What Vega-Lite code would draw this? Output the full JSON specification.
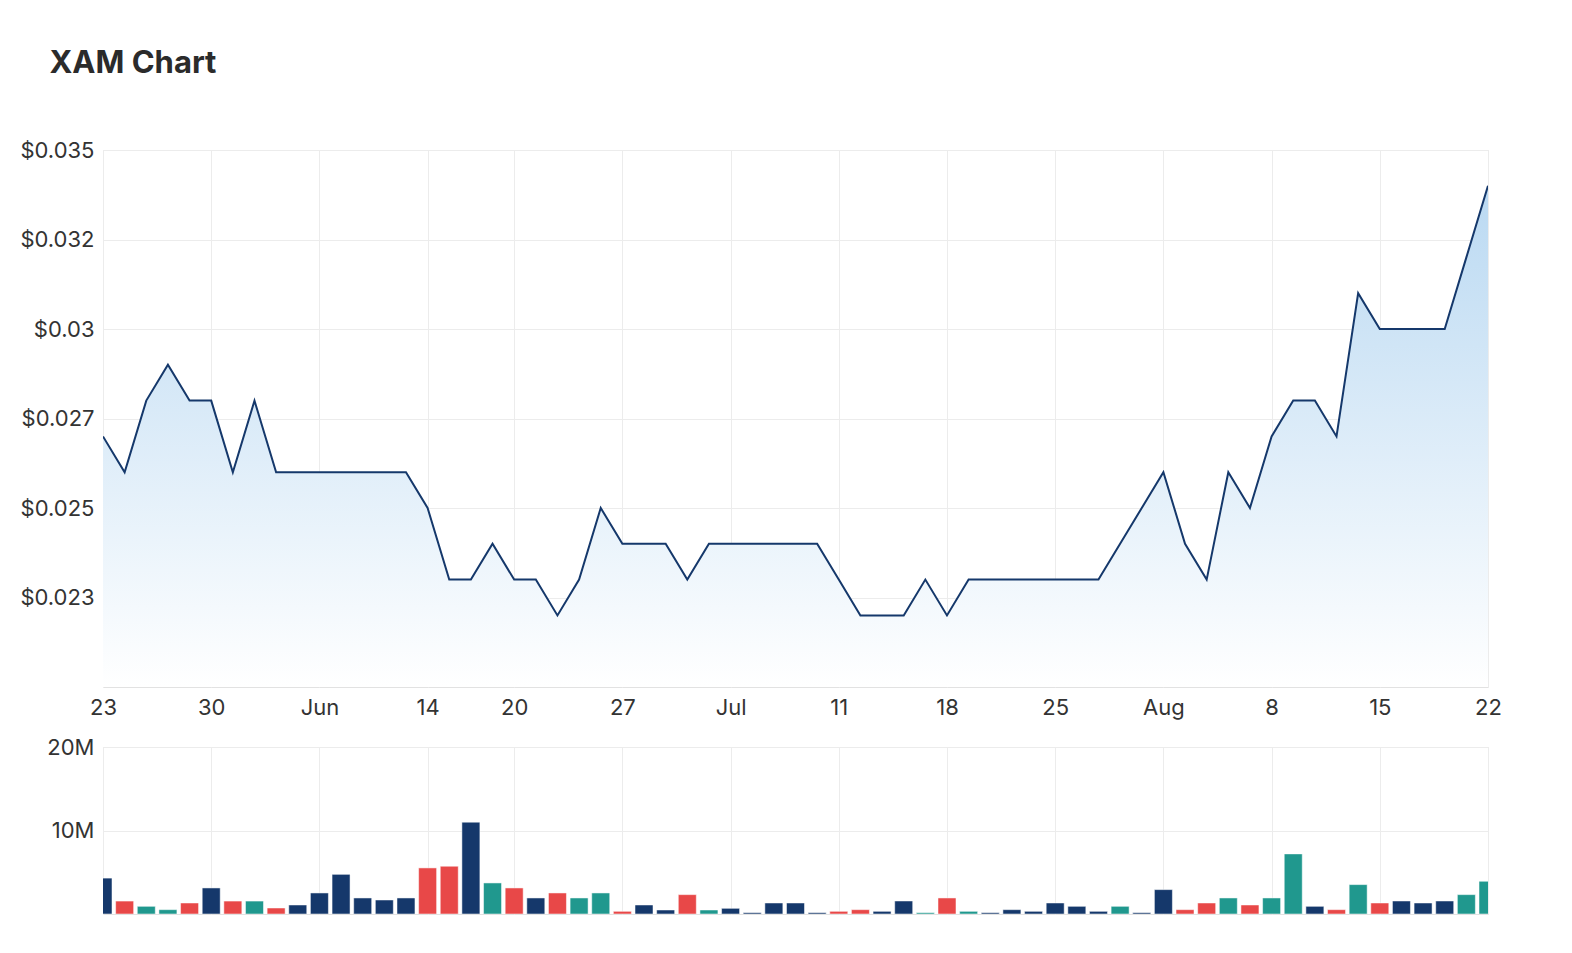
{
  "$schema": "https://vega.github.io/schema/vega-lite/v6.json",
  "background": "white",
  "padding": {"left": 19, "top": 47, "right": 70, "bottom": 30},
  "title": {"text": "XAM Chart", "anchor": "start", "frame": "bounds", "dx": 30, "fontSize": 31, "fontWeight": "bold", "font": "Inter", "color": "#2b2b2b", "offset": 59},
  "data": {"values": [
    {"d": "2022-05-23", "p": 0.027, "v": 4300000, "dir": "neutral"},
    {"d": "2022-05-24", "p": 0.026, "v": 1550000, "dir": "down"},
    {"d": "2022-05-25", "p": 0.028, "v": 920000, "dir": "up"},
    {"d": "2022-05-26", "p": 0.029, "v": 520000, "dir": "up"},
    {"d": "2022-05-27", "p": 0.028, "v": 1320000, "dir": "down"},
    {"d": "2022-05-30", "p": 0.028, "v": 3120000, "dir": "neutral"},
    {"d": "2022-05-31", "p": 0.026, "v": 1550000, "dir": "down"},
    {"d": "2022-06-01", "p": 0.028, "v": 1550000, "dir": "up"},
    {"d": "2022-06-02", "p": 0.026, "v": 720000, "dir": "down"},
    {"d": "2022-06-03", "p": 0.026, "v": 1080000, "dir": "neutral"},
    {"d": "2022-06-06", "p": 0.026, "v": 2520000, "dir": "neutral"},
    {"d": "2022-06-07", "p": 0.026, "v": 4750000, "dir": "neutral"},
    {"d": "2022-06-08", "p": 0.026, "v": 1920000, "dir": "neutral"},
    {"d": "2022-06-09", "p": 0.026, "v": 1680000, "dir": "neutral"},
    {"d": "2022-06-10", "p": 0.026, "v": 1920000, "dir": "neutral"},
    {"d": "2022-06-14", "p": 0.025, "v": 5520000, "dir": "down"},
    {"d": "2022-06-15", "p": 0.023, "v": 5720000, "dir": "down"},
    {"d": "2022-06-16", "p": 0.023, "v": 11000000, "dir": "neutral"},
    {"d": "2022-06-17", "p": 0.024, "v": 3720000, "dir": "up"},
    {"d": "2022-06-20", "p": 0.023, "v": 3120000, "dir": "down"},
    {"d": "2022-06-21", "p": 0.023, "v": 1920000, "dir": "neutral"},
    {"d": "2022-06-22", "p": 0.022, "v": 2520000, "dir": "down"},
    {"d": "2022-06-23", "p": 0.023, "v": 1920000, "dir": "up"},
    {"d": "2022-06-24", "p": 0.025, "v": 2520000, "dir": "up"},
    {"d": "2022-06-27", "p": 0.024, "v": 320000, "dir": "down"},
    {"d": "2022-06-28", "p": 0.024, "v": 1080000, "dir": "neutral"},
    {"d": "2022-06-29", "p": 0.024, "v": 480000, "dir": "neutral"},
    {"d": "2022-06-30", "p": 0.023, "v": 2320000, "dir": "down"},
    {"d": "2022-07-01", "p": 0.024, "v": 480000, "dir": "up"},
    {"d": "2022-07-04", "p": 0.024, "v": 680000, "dir": "neutral"},
    {"d": "2022-07-05", "p": 0.024, "v": 160000, "dir": "neutral"},
    {"d": "2022-07-06", "p": 0.024, "v": 1320000, "dir": "neutral"},
    {"d": "2022-07-07", "p": 0.024, "v": 1320000, "dir": "neutral"},
    {"d": "2022-07-08", "p": 0.024, "v": 160000, "dir": "neutral"},
    {"d": "2022-07-11", "p": 0.023, "v": 320000, "dir": "down"},
    {"d": "2022-07-12", "p": 0.022, "v": 520000, "dir": "down"},
    {"d": "2022-07-13", "p": 0.022, "v": 320000, "dir": "neutral"},
    {"d": "2022-07-14", "p": 0.022, "v": 1560000, "dir": "neutral"},
    {"d": "2022-07-15", "p": 0.023, "v": 160000, "dir": "up"},
    {"d": "2022-07-18", "p": 0.022, "v": 1920000, "dir": "down"},
    {"d": "2022-07-19", "p": 0.023, "v": 320000, "dir": "up"},
    {"d": "2022-07-20", "p": 0.023, "v": 160000, "dir": "neutral"},
    {"d": "2022-07-21", "p": 0.023, "v": 520000, "dir": "neutral"},
    {"d": "2022-07-22", "p": 0.023, "v": 320000, "dir": "neutral"},
    {"d": "2022-07-25", "p": 0.023, "v": 1320000, "dir": "neutral"},
    {"d": "2022-07-26", "p": 0.023, "v": 920000, "dir": "neutral"},
    {"d": "2022-07-27", "p": 0.023, "v": 320000, "dir": "neutral"},
    {"d": "2022-07-28", "p": 0.024, "v": 920000, "dir": "up"},
    {"d": "2022-07-29", "p": 0.025, "v": 160000, "dir": "neutral"},
    {"d": "2022-08-01", "p": 0.026, "v": 2920000, "dir": "neutral"},
    {"d": "2022-08-02", "p": 0.024, "v": 520000, "dir": "down"},
    {"d": "2022-08-03", "p": 0.023, "v": 1320000, "dir": "down"},
    {"d": "2022-08-04", "p": 0.026, "v": 1920000, "dir": "up"},
    {"d": "2022-08-05", "p": 0.025, "v": 1080000, "dir": "down"},
    {"d": "2022-08-08", "p": 0.027, "v": 1920000, "dir": "up"},
    {"d": "2022-08-09", "p": 0.028, "v": 7200000, "dir": "up"},
    {"d": "2022-08-10", "p": 0.028, "v": 920000, "dir": "neutral"},
    {"d": "2022-08-11", "p": 0.027, "v": 520000, "dir": "down"},
    {"d": "2022-08-12", "p": 0.031, "v": 3520000, "dir": "up"},
    {"d": "2022-08-15", "p": 0.030, "v": 1320000, "dir": "down"},
    {"d": "2022-08-16", "p": 0.030, "v": 1560000, "dir": "neutral"},
    {"d": "2022-08-17", "p": 0.030, "v": 1320000, "dir": "neutral"},
    {"d": "2022-08-18", "p": 0.030, "v": 1560000, "dir": "neutral"},
    {"d": "2022-08-19", "p": 0.032, "v": 2320000, "dir": "up"},
    {"d": "2022-08-22", "p": 0.034, "v": 3920000, "dir": "up"}
  ]},
  "spacing": 16,
  "vconcat": [
    {
      "width": 1385,
      "height": 537,
      "encoding": {
        "x": {"field": "d", "type": "ordinal", "scale": {"type": "point", "padding": 0},
          "axis": {"values": ["2022-05-23", "2022-05-30", "2022-06-06", "2022-06-14", "2022-06-20", "2022-06-27", "2022-07-04", "2022-07-11", "2022-07-18", "2022-07-25", "2022-08-01", "2022-08-08", "2022-08-15", "2022-08-22"],
            "labelExpr": "datum.value == '2022-06-06' ? 'Jun' : datum.value == '2022-07-04' ? 'Jul' : datum.value == '2022-08-01' ? 'Aug' : '' + parseInt(substring(datum.value, 8, 10))",
            "title": null, "ticks": false, "domain": false, "labelAngle": 0, "labelPadding": 10, "grid": true}},
        "y": {"field": "p", "type": "quantitative", "scale": {"domain": [0.02, 0.035], "zero": false, "nice": false},
          "axis": {"values": [0.0225, 0.025, 0.0275, 0.03, 0.0325, 0.035],
            "labelExpr": "datum.value > 0.034 ? '$0.035' : datum.value > 0.031 ? '$0.032' : datum.value > 0.029 ? '$0.03' : datum.value > 0.026 ? '$0.027' : datum.value > 0.024 ? '$0.025' : '$0.023'",
            "title": null, "ticks": false, "domain": false, "labelPadding": 9}}
      },
      "layer": [
        {"mark": {"type": "area", "clip": true, "color": {"gradient": "linear", "x1": 0, "y1": 0, "x2": 0, "y2": 1, "stops": [{"offset": 0, "color": "#bad9f2"}, {"offset": 1, "color": "#ffffff"}]}},
         "encoding": {"y2": {"datum": 0.02}}},
        {"mark": {"type": "line", "color": "#15386b", "strokeWidth": 2, "clip": true}}
      ]
    },
    {
      "width": 1385,
      "height": 167,
      "mark": {"type": "bar", "width": 18, "clip": true, "stroke": "#ffffff", "strokeOpacity": 0.5, "strokeWidth": 1},
      "encoding": {
        "x": {"field": "d", "type": "ordinal", "scale": {"type": "point", "padding": 0},
          "axis": {"values": ["2022-05-23", "2022-05-30", "2022-06-06", "2022-06-14", "2022-06-20", "2022-06-27", "2022-07-04", "2022-07-11", "2022-07-18", "2022-07-25", "2022-08-01", "2022-08-08", "2022-08-15", "2022-08-22"],
            "labels": false, "title": null, "ticks": false, "domain": false, "grid": true}},
        "y": {"field": "v", "type": "quantitative", "scale": {"domain": [0, 20000000], "nice": false},
          "axis": {"values": [10000000, 20000000], "labelExpr": "datum.value > 15000000 ? '20M' : '10M'",
            "title": null, "ticks": false, "domain": false, "labelPadding": 9}},
        "color": {"field": "dir", "type": "nominal", "scale": {"domain": ["up", "down", "neutral"], "range": ["#20988e", "#e84848", "#15386b"]}, "legend": null}
      }
    }
  ],
  "config": {
    "view": {"stroke": "#e2e2e2"},
    "axis": {"gridColor": "#ececec", "labelColor": "#333333", "labelFont": "Inter", "labelFontSize": 22}
  }
}
